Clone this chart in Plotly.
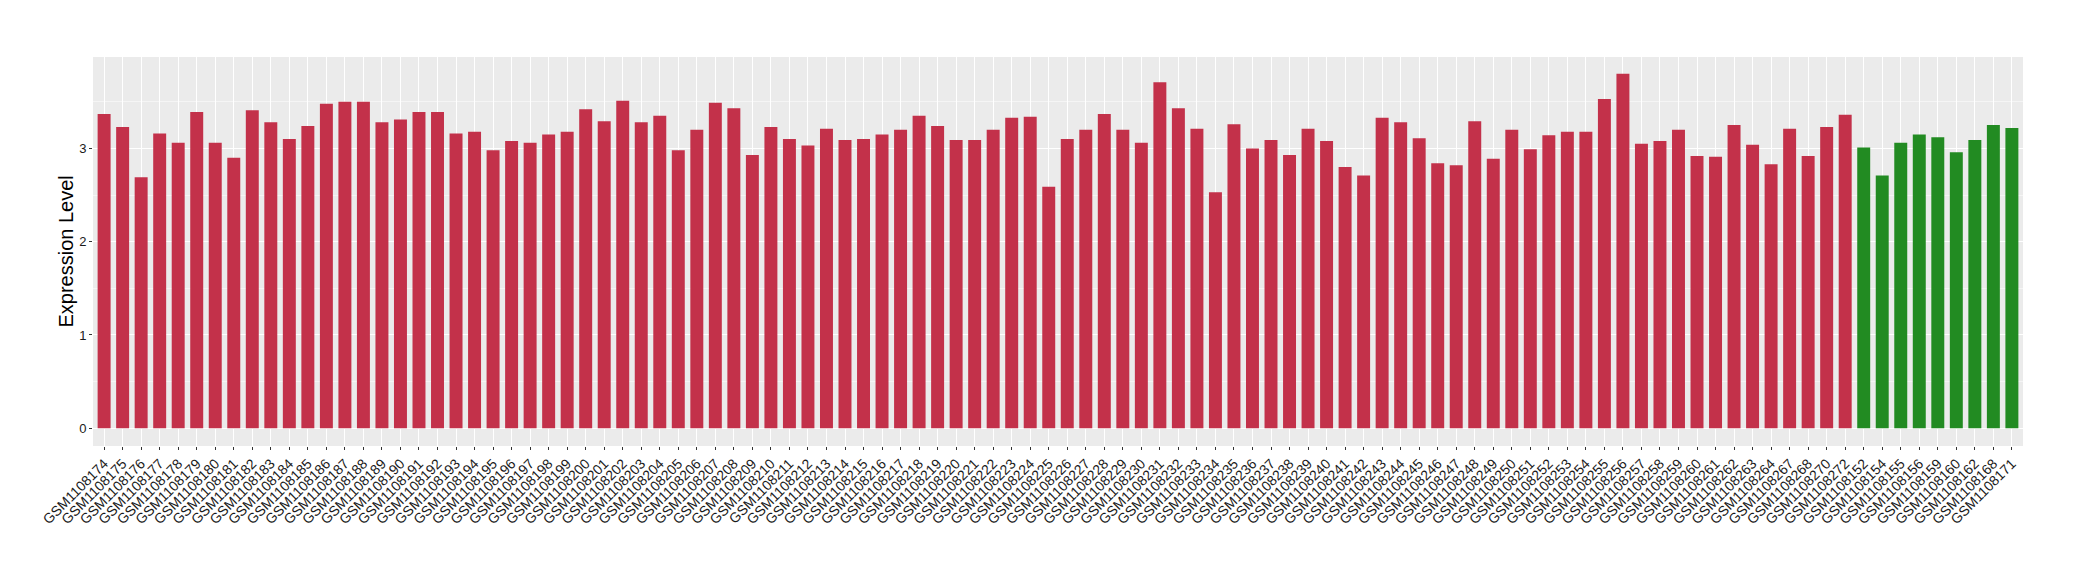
import plotly.graph_objects as go

# sample ids as they appear on the x axis (red group first, then green)
red_samples = [f"GSM1108{n}" for n in range(174, 265)] + [
    "GSM1108267", "GSM1108268", "GSM1108270", "GSM1108272"]
green_samples = ["GSM1108152", "GSM1108154", "GSM1108155", "GSM1108156",
                 "GSM1108159", "GSM1108160", "GSM1108162", "GSM1108168", "GSM1108171"]

red_values = [
    3.37, 3.23, 2.69, 3.16, 3.06, 3.39, 3.06, 2.90, 3.41, 3.28,
    3.10, 3.24, 3.48, 3.50, 3.50, 3.28, 3.31, 3.39, 3.39, 3.16,
    3.18, 2.98, 3.08, 3.06, 3.15, 3.18, 3.42, 3.29, 3.51, 3.28,
    3.35, 2.98, 3.20, 3.49, 3.43, 2.93, 3.23, 3.10, 3.03, 3.21,
    3.09, 3.10, 3.15, 3.20, 3.35, 3.24, 3.09, 3.09, 3.20, 3.33,
    3.34, 2.59, 3.10, 3.20, 3.37, 3.20, 3.06, 3.71, 3.43, 3.21,
    2.53, 3.26, 3.00, 3.09, 2.93, 3.21, 3.08, 2.80, 2.71, 3.33,
    3.28, 3.11, 2.84, 2.82, 3.29, 2.89, 3.20, 2.99, 3.14, 3.18,
    3.18, 3.53, 3.80, 3.05, 3.08, 3.20, 2.92, 2.91, 3.25, 3.04,
    2.83, 3.21, 2.92, 3.23, 3.36,
]
green_values = [3.01, 2.71, 3.06, 3.15, 3.12, 2.96, 3.09, 3.25, 3.22]

RED = "#C3314A"
GREEN = "#228B22"

samples = red_samples + green_samples

fig = go.Figure()
fig.add_trace(go.Bar(x=red_samples, y=red_values, marker_color=RED,
                     marker_line_width=0, width=0.7))
fig.add_trace(go.Bar(x=green_samples, y=green_values, marker_color=GREEN,
                     marker_line_width=0, width=0.7))

# the page body has an 8px margin, so the figure is a bit smaller than the window
fig.update_layout(
    width=2072,
    height=572,
    showlegend=False,
    paper_bgcolor="white",
    plot_bgcolor="#EBEBEB",
    font=dict(family="Liberation Sans, Arial", color="#1A1A1A"),
    margin=dict(l=85, r=57, t=49, b=134, autoexpand=False),
    xaxis=dict(
        automargin=False,
        categoryorder="array",
        categoryarray=samples,
        range=[-0.6, len(samples) - 0.4],
        tickangle=-45,
        tickfont=dict(size=14, color="#1A1A1A"),
        showgrid=True,
        gridcolor="white",
        gridwidth=1.1,
        ticks="outside",
        ticklen=3,
        tickcolor="#333333",
        showline=False,
        zeroline=False,
    ),
    yaxis=dict(
        automargin=False,
        range=[-0.19, 3.98],
        tickvals=[0, 1, 2, 3],
        tickfont=dict(size=13, color="#1A1A1A"),
        showgrid=True,
        gridcolor="white",
        gridwidth=1.1,
        minor=dict(dtick=0.5, tick0=0, showgrid=True, gridcolor="#F5F5F5", gridwidth=0.6),
        ticks="outside",
        ticklen=3,
        tickcolor="#333333",
        zeroline=False,
    ),
)

# y axis title placed as in the original (closer to the tick labels)
fig.add_annotation(
    text="Expression Level",
    xref="paper", yref="paper",
    x=-0.0145, y=0.5,
    xanchor="center", yanchor="middle",
    textangle=-90,
    showarrow=False,
    font=dict(size=20, color="black"),
)

fig.write_html("out.html")
